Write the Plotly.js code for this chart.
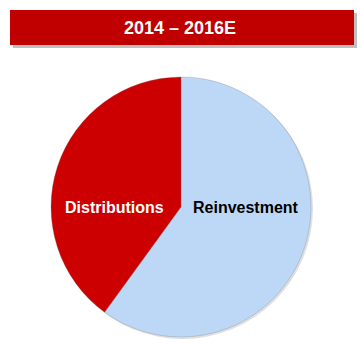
<!DOCTYPE html>
<html>
<head>
<meta charset="utf-8">
<script src="https://cdn.plot.ly/plotly-3.0.1.min.js"></script>
<style>html,body{margin:0;padding:0;background:#fff;}#chart{width:360px;height:348px;}</style>
</head>
<body>
<div id="chart"></div>
<script>
var title = '2014 \u2013 2016E';
var labels = ['Reinvestment', 'Distributions'];
var values = [60, 40];
var colors = ['#BDD7F6', '#CC0000'];
var labelColors = ['#000000', '#FFFFFF'];

var W = 360, H = 348;
function px(x){return x / W;}
function py(y){return 1 - y / H;}

var trace = {
  type: 'pie',
  labels: labels,
  values: values,
  sort: false,
  direction: 'clockwise',
  rotation: 0,
  textinfo: 'none',
  hoverinfo: 'label+percent',
  marker: {colors: colors, line: {color: 'rgba(120,120,120,0.5)', width: 0.6}},
  domain: {x: [px(51), px(311)], y: [py(337), py(77)]},
  showlegend: false
};

var layout = {
  width: W, height: H,
  margin: {l: 0, r: 0, t: 0, b: 0},
  paper_bgcolor: '#ffffff',
  showlegend: false,
  title: {
    text: '<b>' + title + '</b>',
    font: {family: 'Liberation Sans, Arial, sans-serif', size: 18, color: '#ffffff'},
    x: 0.5, xanchor: 'center', y: py(27.5), yanchor: 'middle', yref: 'container'
  },
  shapes: [
    {type: 'rect', xref: 'paper', yref: 'paper', x0: px(13), x1: px(357), y0: py(48), y1: py(13),
     fillcolor: 'rgba(0,0,0,0.25)', line: {width: 0}, layer: 'below'},
    {type: 'rect', xref: 'paper', yref: 'paper', x0: px(10), x1: px(354), y0: py(45), y1: py(10),
     fillcolor: '#C00000', line: {width: 0}, layer: 'below'},
    {type: 'circle', xref: 'paper', yref: 'paper', x0: px(52), x1: px(313), y0: py(339), y1: py(78),
     fillcolor: 'rgba(0,0,0,0.12)', line: {width: 0}, layer: 'below'}
  ],
  annotations: [
    {text: '<b>' + labels[1] + '</b>', xref: 'paper', yref: 'paper', x: px(114), y: py(207),
     xanchor: 'center', yanchor: 'middle', showarrow: false,
     font: {family: 'Liberation Sans, Arial, sans-serif', size: 16, color: labelColors[1]}},
    {text: '<b>' + labels[0] + '</b>', xref: 'paper', yref: 'paper', x: px(246), y: py(207),
     xanchor: 'center', yanchor: 'middle', showarrow: false,
     font: {family: 'Liberation Sans, Arial, sans-serif', size: 16, color: labelColors[0]}}
  ]
};

Plotly.newPlot('chart', [trace], layout, {displayModeBar: false, staticPlot: true});
</script>
</body>
</html>
